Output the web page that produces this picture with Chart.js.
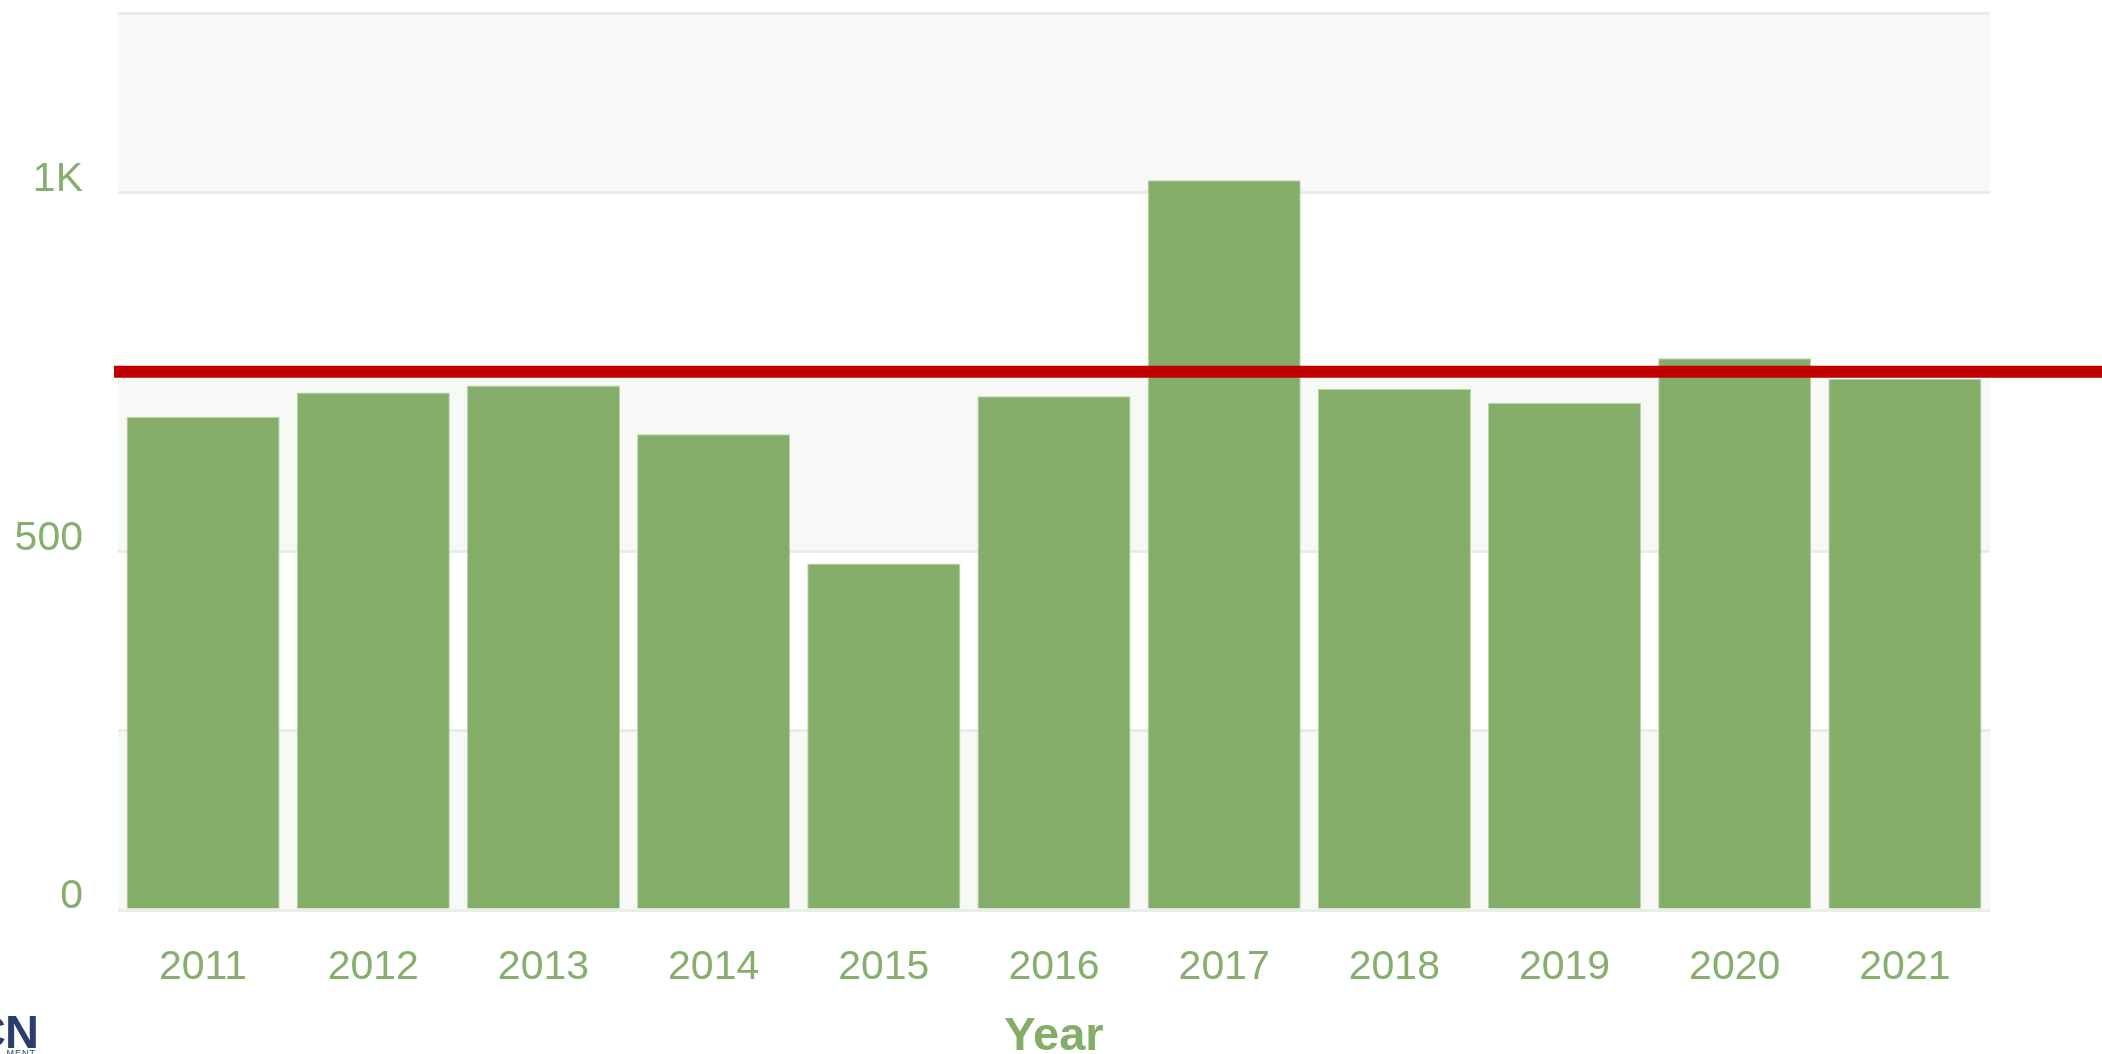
<!DOCTYPE html>
<html>
<head>
<meta charset="utf-8">
<title>Year</title>
<script src="https://cdn.jsdelivr.net/npm/chart.js@4.4.0/dist/chart.umd.min.js"></script>
<style>
  html, body { margin: 0; padding: 0; background: #ffffff; }
  #contenedor { position: relative; width: 2102px; height: 1054px; overflow: hidden; }
  #logo { position: absolute; left: 0; top: 1008px; width: 38px; height: 46px; overflow: hidden; }
  #logo .marca { position: absolute; right: 0; top: 0; white-space: nowrap; font-family: 'Liberation Sans', Arial, sans-serif; font-weight: bold; font-size: 47px; line-height: 47px; color: #2b3c6e; letter-spacing: -1px; }
  #logo .sub { position: absolute; right: 2px; top: 40px; white-space: nowrap; font-family: 'Liberation Sans', Arial, sans-serif; font-size: 9px; color: #2b3c6e; letter-spacing: 1px; }
</style>
</head>
<body>
<div id="contenedor">
  <canvas id="grafica" width="2102" height="1054"></canvas>
  <div id="logo"><span class="marca">CN</span><span class="sub">MENT</span></div>
</div>
<script>
//datos de la grafica
var anios = [ '2011', '2012', '2013', '2014', '2015', '2016', '2017', '2018', '2019', '2020', '2021' ];
var valores = [ 687, 721, 731, 663, 483, 716, 1017, 726, 707, 769, 740 ];
var promedio = 750;

//etiquetas del eje y
var ticksY = [ 0, 500, 1000 ];
var etiquetasY = [ '0', '500', '1K' ];

//colores
var colorBarra = '#85ad6a';
var colorTexto = '#86ae6c';
var colorFranja = '#f7f9f6';
var colorLinea = '#c00000';

var fuente = "'Liberation Sans', Arial, sans-serif";

//franjas alternadas de fondo
var franjas = {
  id: 'franjas',
  beforeDraw: function ( chart )
  {
    var area = chart.chartArea;
    var y = chart.scales.y;
    var c = chart.ctx;
    var ticks = y.ticks;
    c.save( );
    for ( var i = 0; i < ticks.length - 1; i++ )
    {
      if ( i % 2 == 0 )
      {
        var y1 = y.getPixelForValue( ticks[ i ].value );
        var y2 = y.getPixelForValue( ticks[ i + 1 ].value );
        c.fillStyle = colorFranja;
        c.fillRect( area.left, y2, area.right - area.left, y1 - y2 );
      }
    }
    c.restore( );
  }
};

//linea roja del promedio
var lineaPromedio = {
  id: 'lineaPromedio',
  afterDatasetsDraw: function ( chart )
  {
    var y = chart.scales.y.getPixelForValue( promedio );
    var c = chart.ctx;
    c.save( );
    c.strokeStyle = colorLinea;
    c.lineWidth = 12;
    c.beginPath( );
    c.moveTo( chart.chartArea.left - 4, y );
    c.lineTo( chart.width, y );
    c.stroke( );
    c.restore( );
  }
};

var grafica = new Chart( document.getElementById( 'grafica' ).getContext( '2d' ),
{
  type: 'bar',
  data:
  {
    labels: anios,
    datasets:
    [
      {
        data: valores,
        backgroundColor: colorBarra,
        borderColor: '#bcd3ad',
        borderWidth: 1,
        borderSkipped: 'bottom',
        barPercentage: 0.9,
        categoryPercentage: 1
      }
    ]
  },
  options:
  {
    responsive: false,
    animation: false,
    devicePixelRatio: 1,
    layout: { padding: { top: 13, right: 112, bottom: 0, left: 0 } },
    plugins:
    {
      legend: { display: false },
      tooltip: { enabled: false }
    },
    scales:
    {
      x:
      {
        grid: { display: false },
        border: { display: false },
        ticks:
        {
          color: colorTexto,
          padding: 25,
          font: { family: fuente, size: 41 }
        },
        title:
        {
          display: true,
          text: 'Year',
          color: colorBarra,
          font: { family: fuente, size: 47, weight: 'bold', lineHeight: 1 },
          padding: { top: 0, bottom: -7 }
        },
        afterFit: function ( s )
        {
          s.height = 144;
          s.paddingLeft = 0;
          s.paddingRight = 0;
        }
      },
      y:
      {
        min: 0,
        max: 1250,
        border: { display: false },
        grid: { color: '#e8eee5', lineWidth: 3, drawTicks: false },
        ticks:
        {
          stepSize: 250,
          color: colorTexto,
          padding: 35,
          labelOffset: -13,
          font: { family: fuente, size: 41 },
          callback: function ( valor )
          {
            var i = ticksY.indexOf( valor );
            return i >= 0 ? etiquetasY[ i ] : '';
          }
        },
        afterFit: function ( s )
        {
          s.width = 118;
          s.paddingTop = 0;
          s.paddingBottom = 0;
        }
      }
    }
  },
  plugins: [ franjas, lineaPromedio ]
});
</script>
</body>
</html>
